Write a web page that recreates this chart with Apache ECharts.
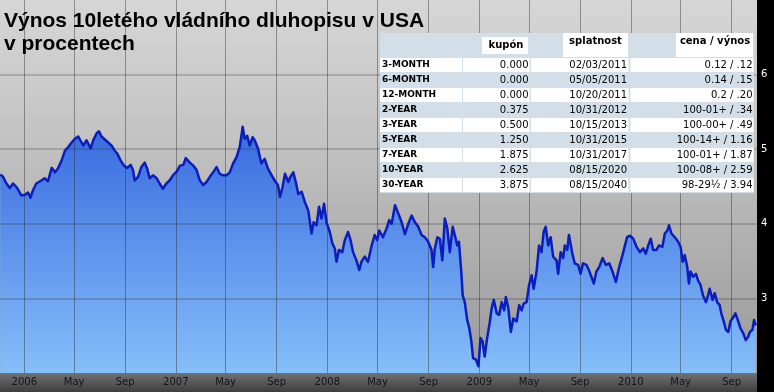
<!DOCTYPE html>
<html>
<head>
<meta charset="utf-8">
<script src="https://cdn.jsdelivr.net/npm/echarts@6/dist/echarts.min.js"></script>
<style>html,body{margin:0;padding:0;background:#000;}#c{width:774px;height:392px;}</style>
</head>
<body>
<div id="c"></div>
<script>
// ---- data ----
const titleText = 'Výnos 10letého vládního dluhopisu v USA\nv procentech';
const dates = [
'2005-11-04','2005-11-11','2005-11-19','2005-11-27','2005-12-05','2005-12-12','2005-12-17','2005-12-25',
'2006-01-03','2006-01-10','2006-01-16','2006-01-22','2006-01-30','2006-02-11','2006-02-19','2006-02-27',
'2006-03-08','2006-03-16','2006-03-23','2006-04-01','2006-04-09','2006-04-17','2006-04-25','2006-05-03',
'2006-05-11','2006-05-16','2006-05-23','2006-05-31','2006-06-10','2006-06-16','2006-06-24','2006-06-30',
'2006-07-06','2006-07-14','2006-07-22','2006-07-30','2006-08-07','2006-08-13','2006-08-21','2006-08-29',
'2006-09-06','2006-09-14','2006-09-20','2006-09-24','2006-10-02','2006-10-10','2006-10-18','2006-10-24',
'2006-10-30','2006-11-07','2006-11-16','2006-11-23','2006-12-01','2006-12-09','2006-12-17','2006-12-25',
'2007-01-03','2007-01-11','2007-01-19','2007-01-25','2007-02-02','2007-02-12','2007-02-20','2007-02-28',
'2007-03-08','2007-03-16','2007-03-24','2007-04-01','2007-04-09','2007-04-17','2007-04-25','2007-05-03',
'2007-05-11','2007-05-19','2007-05-27','2007-06-04','2007-06-08','2007-06-11','2007-06-16','2007-06-22',
'2007-06-28','2007-07-05','2007-07-10','2007-07-18','2007-07-26','2007-08-03','2007-08-11','2007-08-20',
'2007-08-27','2007-09-04','2007-09-09','2007-09-15','2007-09-21','2007-09-29','2007-10-04','2007-10-11',
'2007-10-17','2007-10-23','2007-10-31','2007-11-08','2007-11-16','2007-11-24','2007-11-29','2007-12-06',
'2007-12-12','2007-12-18','2007-12-24','2007-12-30','2008-01-07','2008-01-13','2008-01-19','2008-01-23',
'2008-01-29','2008-02-06','2008-02-12','2008-02-20','2008-02-26','2008-03-03','2008-03-11','2008-03-18',
'2008-03-23','2008-03-31','2008-04-08','2008-04-16','2008-04-24','2008-04-30','2008-05-05','2008-05-14',
'2008-05-23','2008-05-29','2008-06-04','2008-06-12','2008-06-20','2008-06-28','2008-07-06','2008-07-14',
'2008-07-22','2008-07-30','2008-08-07','2008-08-15','2008-08-23','2008-08-31','2008-09-08','2008-09-12',
'2008-09-16','2008-09-22','2008-09-28','2008-10-04','2008-10-10','2008-10-16','2008-10-22','2008-10-29',
'2008-11-03','2008-11-09','2008-11-13','2008-11-19','2008-11-22','2008-11-27','2008-12-03','2008-12-08',
'2008-12-13','2008-12-17','2008-12-24','2008-12-30','2009-01-04','2009-01-09','2009-01-14','2009-01-20',
'2009-01-26','2009-01-31','2009-02-05','2009-02-12','2009-02-18','2009-02-24','2009-03-02','2009-03-06',
'2009-03-12','2009-03-18','2009-03-24','2009-04-01','2009-04-07','2009-04-13','2009-04-18','2009-04-25',
'2009-05-01','2009-05-07','2009-05-12','2009-05-19','2009-05-25','2009-05-31','2009-06-05','2009-06-10',
'2009-06-16','2009-06-22','2009-06-28','2009-07-06','2009-07-10','2009-07-16','2009-07-22','2009-07-26',
'2009-08-01','2009-08-05','2009-08-14','2009-08-19','2009-08-27','2009-09-02','2009-09-08','2009-09-16',
'2009-09-22','2009-09-28','2009-10-04','2009-10-10','2009-10-17','2009-10-25','2009-11-02','2009-11-10',
'2009-11-18','2009-11-26','2009-12-04','2009-12-12','2009-12-18','2009-12-23','2009-12-30','2010-01-07',
'2010-01-15','2010-01-23','2010-01-31','2010-02-06','2010-02-12','2010-02-18','2010-02-24','2010-03-04',
'2010-03-10','2010-03-18','2010-03-24','2010-03-30','2010-04-03','2010-04-09','2010-04-17','2010-04-25',
'2010-05-01','2010-05-06','2010-05-11','2010-05-17','2010-05-21','2010-05-25','2010-05-31','2010-06-07',
'2010-06-12','2010-06-18','2010-06-24','2010-07-01','2010-07-06','2010-07-10','2010-07-17','2010-07-22',
'2010-07-28','2010-08-03','2010-08-07','2010-08-13','2010-08-18','2010-08-24','2010-08-29','2010-09-05',
'2010-09-10','2010-09-17','2010-09-22','2010-09-29','2010-10-05','2010-10-11','2010-10-15','2010-10-21',
'2010-10-25','2010-10-29'
];
const yields = [
4.66,4.63,4.54,4.48,4.54,4.50,4.46,4.38,
4.39,4.42,4.35,4.45,4.54,4.58,4.61,4.57,
4.75,4.69,4.74,4.85,4.98,5.03,5.09,5.14,
5.17,5.12,5.05,5.12,5.01,5.12,5.21,5.24,
5.17,5.13,5.09,5.05,4.98,4.94,4.85,4.78,
4.75,4.79,4.72,4.58,4.63,4.76,4.82,4.74,
4.61,4.65,4.61,4.54,4.47,4.54,4.58,4.65,
4.70,4.78,4.79,4.88,4.83,4.78,4.72,4.58,
4.52,4.56,4.63,4.69,4.76,4.67,4.65,4.65,
4.69,4.81,4.89,5.03,5.18,5.30,5.14,5.18,
5.05,5.16,5.12,5.01,4.81,4.87,4.74,4.65,
4.58,4.52,4.36,4.49,4.67,4.56,4.63,4.69,
4.56,4.40,4.43,4.29,4.18,3.87,4.02,3.98,
4.23,4.07,4.27,4.02,3.89,3.74,3.67,3.49,
3.65,3.62,3.78,3.89,3.78,3.62,3.51,3.38,
3.49,3.56,3.49,3.69,3.85,3.78,3.91,3.82,
3.94,4.05,4.00,4.25,4.14,4.02,3.86,4.00,
4.11,4.02,3.96,3.85,3.82,3.76,3.65,3.42,
3.67,3.82,3.80,3.51,4.07,3.94,3.62,3.96,
3.85,3.71,3.76,3.33,3.04,2.95,2.71,2.60,
2.42,2.20,2.18,2.09,2.47,2.42,2.22,2.47,
2.67,2.87,2.98,2.80,2.78,2.95,2.84,3.02,
2.87,2.55,2.73,2.69,2.91,2.84,2.93,2.95,
3.18,3.31,3.13,3.36,3.71,3.62,3.89,3.96,
3.71,3.82,3.56,3.51,3.33,3.62,3.54,3.71,
3.65,3.85,3.58,3.47,3.45,3.33,3.47,3.45,
3.38,3.29,3.20,3.36,3.42,3.54,3.45,3.47,
3.36,3.22,3.42,3.58,3.71,3.82,3.84,3.80,
3.69,3.62,3.67,3.60,3.71,3.80,3.65,3.65,
3.71,3.69,3.87,3.91,3.98,3.87,3.82,3.76,
3.69,3.49,3.58,3.42,3.20,3.36,3.29,3.33,
3.24,3.18,3.04,2.95,3.04,3.13,2.98,3.07,
2.95,2.91,2.80,2.69,2.58,2.55,2.69,2.75,
2.80,2.69,2.60,2.53,2.44,2.49,2.55,2.58,
2.71,2.64
];
const xTickDates = ['2006-01-01','2006-05-01','2006-09-01','2007-01-01','2007-05-01','2007-09-01',
  '2008-01-01','2008-05-01','2008-09-01','2009-01-01','2009-05-01','2009-09-01',
  '2010-01-01','2010-05-01','2010-09-01'];
const xTickLabels = ['2006','May','Sep','2007','May','Sep','2008','May','Sep','2009','May','Sep','2010','May','Sep'];
const yTickLabels = ['3','4','5','6'];
const xStart = '2005-11-03';
const xEnd = '2010-11-01';

const tableHeaders = ['kupón','splatnost','cena / výnos'];
const rowLabels = ['3-MONTH','6-MONTH','12-MONTH','2-YEAR','3-YEAR','5-YEAR','7-YEAR','10-YEAR','30-YEAR'];
const coupons = ['0.000','0.000','0.000','0.375','0.500','1.250','1.875','2.625','3.875'];
const maturities = ['02/03/2011','05/05/2011','10/20/2011','10/31/2012','10/15/2013','10/31/2015','10/31/2017','08/15/2020','08/15/2040'];
const prices = ['0.12 / .12','0.14 / .15','0.2 / .20','100-01+ / .34','100-00+ / .49','100-14+ / 1.16','100-01+ / 1.87','100-08+ / 2.59','98-29½ / 3.94'];

// ---- build ----
function ts(s){ const p = s.split('-').map(Number); return Date.UTC(p[0], p[1]-1, p[2]); }
const seriesData = dates.map((d, i) => [ts(d), yields[i]]);
const tickTs = xTickDates.map(ts);

const chart = echarts.init(document.getElementById('c'), null, {renderer: 'canvas'});
const LG = echarts.graphic.LinearGradient;

const blueFill = new LG(0, 0, 0, 373, [
  {offset: 0, color: 'rgb(16,64,208)'},
  {offset: 1, color: 'rgb(134,190,250)'}
], true);

const graphics = [];
graphics.push({type: 'rect', z: 1, silent: true,
  shape: {x: 0, y: 373, width: 757, height: 19},
  style: {fill: new LG(0, 0, 0, 1, [{offset: 0, color: '#727272'}, {offset: 1, color: '#3e3e3e'}])}});
const TX = 380, TW = 374;
const tBlue = '#d3dfe8';
graphics.push({type: 'rect', z: 10, silent: true, shape: {x: TX, y: 33, width: TW, height: 160}, style: {fill: tBlue}});
const headBoxes = [[482, 37, 46, 17, 506, 45.5], [563, 33, 65, 24, 595.5, 41], [676, 33, 77, 24, 715, 41]];
headBoxes.forEach((b, i) => {
  graphics.push({type: 'rect', z: 10, silent: true, shape: {x: b[0], y: b[1], width: b[2], height: b[3]}, style: {fill: '#ffffff'}});
  graphics.push({type: 'text', z: 11, silent: true, x: b[4], y: b[5],
    style: {text: tableHeaders[i], font: 'bold 10px "DejaVu Sans"', fill: '#000',
      align: 'center', verticalAlign: 'middle', textAlign: 'center', textVerticalAlign: 'middle'}});
});
const cells = [[380, 82], [463, 66.5], [531, 97.5], [630.5, 123]];
rowLabels.forEach((lab, i) => {
  const top = 58 + 15 * i;
  if (i % 2 === 0) {
    cells.forEach(c => graphics.push({type: 'rect', z: 10, silent: true,
      shape: {x: c[0], y: top, width: c[1], height: 14}, style: {fill: '#ffffff'}}));
  }
  const cy = top + 7;
  const txt = (t, x, align, font) => graphics.push({type: 'text', z: 11, silent: true, x: x, y: cy,
    style: {text: t, font: font, fill: '#000', align: align, verticalAlign: 'middle',
      textAlign: align, textVerticalAlign: 'middle'}});
  txt(lab, 382, 'left', 'bold 9px "DejaVu Sans"');
  txt(coupons[i], 528.5, 'right', '10px "DejaVu Sans"');
  txt(maturities[i], 627, 'right', '10px "DejaVu Sans"');
  txt(prices[i], 752.5, 'right', '10px "DejaVu Sans"');
});

const option = {
  backgroundColor: '#000',
  animation: false,
  title: {
    text: titleText, left: 4, top: 10, padding: 0, z: 12,
    textStyle: {fontFamily: '"Liberation Sans", Arial, sans-serif', fontWeight: 'bold', fontSize: 21, lineHeight: 23, color: '#000'}
  },
  grid: {
    left: 0, right: 17, top: -1, bottom: 19, show: true, borderWidth: 0,
    backgroundColor: new LG(0, 0, 0, 1, [
      {offset: 0, color: '#d6d6d6'},
      {offset: 0.35, color: '#c4c4c4'},
      {offset: 0.8, color: '#a6a6a6'},
      {offset: 1, color: '#9a9a9a'}
    ])
  },
  xAxis: {
    type: 'value', min: ts(xStart) + 12 * 3600 * 1000, max: ts(xEnd), z: 2,
    axisLine: {show: false}, axisTick: {show: false, customValues: tickTs},
    axisLabel: {
      customValues: tickTs, color: '#141414', fontSize: 10, fontFamily: '"DejaVu Sans"', margin: 4,
      formatter: function (v) { const i = tickTs.indexOf(v); return i >= 0 ? xTickLabels[i] : ''; }
    },
    splitLine: {show: true, lineStyle: {color: 'rgba(40,40,40,0.42)', width: 1}}
  },
  yAxis: {
    type: 'value', position: 'right', min: 2, max: 7, interval: 1, z: 2,
    axisLine: {show: false}, axisTick: {show: false},
    axisLabel: {
      color: '#fff', fontSize: 10, fontFamily: '"DejaVu Sans"', margin: 4,
      formatter: function (v) { const s = String(v); return yTickLabels.indexOf(s) >= 0 ? s : ''; }
    },
    splitLine: {show: true, showMinLine: false, showMaxLine: false, lineStyle: {color: 'rgba(60,60,60,0.24)', width: 2}}
  },
  series: [
    {type: 'line', data: seriesData, symbol: 'none', z: 1, silent: true,
      lineStyle: {width: 0}, areaStyle: {color: blueFill, opacity: 1}},
    {type: 'line', data: seriesData, symbol: 'none', z: 3, silent: true,
      lineStyle: {color: '#0a1dbd', width: 2.5, join: 'round'}}
  ],
  graphic: {elements: graphics}
};
chart.setOption(option);
</script>
</body>
</html>
